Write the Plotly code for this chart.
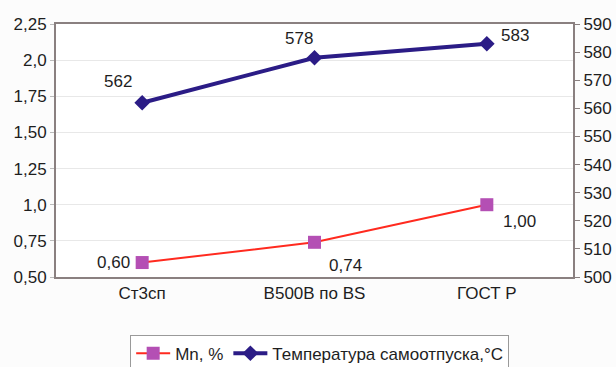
import plotly.graph_objects as go

categories = ["Ст3сп", "B500B по BS", "ГОСТ Р"]
mn_values = [0.60, 0.74, 1.00]
temp_values = [562, 578, 583]
left_ticks = [0.5, 0.75, 1.0, 1.25, 1.5, 1.75, 2.0, 2.25]
left_ticktext = ["0,50", "0,75", "1,0", "1,25", "1,50", "1,75", "2,0", "2,25"]
right_ticks = [500, 510, 520, 530, 540, 550, 560, 570, 580, 590]

FONT = "Liberation Sans, Arial, sans-serif"
FS = 17

fig = go.Figure()
fig.add_trace(go.Scatter(
    x=categories, y=mn_values, name="Mn, %", mode="lines+markers",
    line=dict(color="#ff2a1f", width=2),
    marker=dict(symbol="square", size=13, color="#b44fb4"),
    yaxis="y"))
fig.add_trace(go.Scatter(
    x=categories, y=temp_values, name="Температура самоотпуска,°C", mode="lines+markers",
    line=dict(color="#2b1c86", width=4),
    marker=dict(symbol="diamond", size=12, color="#2b1c86"),
    yaxis="y2"))

mn_shift = [(-29, 0), (31, -23), (33, -17)]
for c, v, (dx, dy) in zip(categories, mn_values, mn_shift):
    fig.add_annotation(x=c, y=v, xref="x", yref="y", text=f"{v:.2f}".replace(".", ","),
                       showarrow=False, xshift=dx, yshift=dy,
                       font=dict(family=FONT, size=FS, color="#1e1e1e"))
temp_shift = [(-24, 21), (-16, 19), (28, 8)]
for c, v, (dx, dy) in zip(categories, temp_values, temp_shift):
    fig.add_annotation(x=c, y=v, xref="x", yref="y2", text=str(v),
                       showarrow=False, xshift=dx, yshift=dy,
                       font=dict(family=FONT, size=FS, color="#1e1e1e"))

fig.update_layout(
    width=616, height=367,
    margin=dict(l=56, r=43, t=24, b=90, autoexpand=False),
    paper_bgcolor="#fcfcfc", plot_bgcolor="#ffffff",
    font=dict(family=FONT, size=FS, color="#1e1e1e"),
    showlegend=True,
    legend=dict(orientation="h", x=0.51, xanchor="center", y=-0.228, yanchor="top",
                bordercolor="#9a9a9a", borderwidth=1, bgcolor="#ffffff",
                font=dict(family=FONT, size=FS, color="#1e1e1e"), itemwidth=34,
                tracegroupgap=0),
    xaxis=dict(type="category", range=[-0.5, 2.5], showgrid=False, zeroline=False,
               showline=True, linecolor="#8a8080", linewidth=2, mirror=True,
               ticks="", tickfont=dict(size=FS), automargin=False),
    yaxis=dict(range=[0.5, 2.25], tickvals=left_ticks, ticktext=left_ticktext,
               showgrid=True, gridcolor="#e8e8e8", zeroline=False,
               showline=True, linecolor="#8a8080", linewidth=2,
               ticks="outside", ticklen=4, tickcolor="#bbbbbb", tickfont=dict(size=FS),
               automargin=False),
    yaxis2=dict(range=[500, 590], tickvals=right_ticks, overlaying="y", side="right",
                showgrid=False, zeroline=False, showline=True, linecolor="#8a8080",
                linewidth=2, ticks="outside", ticklen=5, tickcolor="#8a8080",
                tickfont=dict(size=FS), automargin=False),
)

fig.write_html("out.html", config={"displayModeBar": False},
               post_script="document.body.style.margin='0';document.body.style.overflow='hidden';")
